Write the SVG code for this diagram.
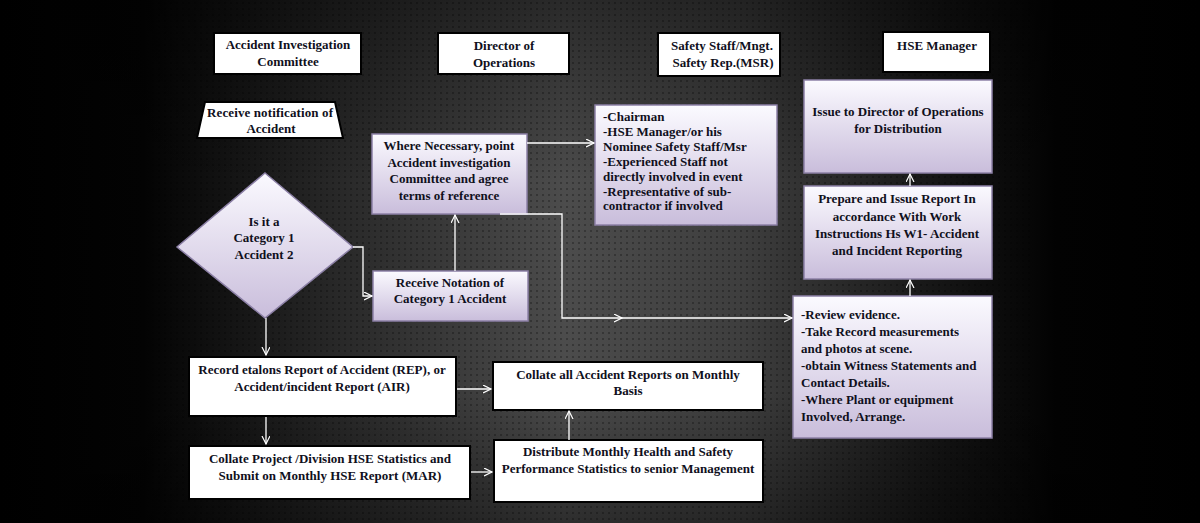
<svg xmlns="http://www.w3.org/2000/svg" width="1200" height="523" viewBox="0 0 1200 523">
  <defs>
    <linearGradient id="bgH" x1="0" y1="0" x2="1" y2="0">
      <stop offset="0" stop-color="#000"/>
      <stop offset="0.12" stop-color="#030303"/>
      <stop offset="0.28" stop-color="#282828"/>
      <stop offset="0.47" stop-color="#4c4c4c"/>
      <stop offset="0.62" stop-color="#3e3e3e"/>
      <stop offset="0.78" stop-color="#161616"/>
      <stop offset="0.88" stop-color="#020202"/>
      <stop offset="1" stop-color="#000"/>
    </linearGradient>
    <linearGradient id="bgV" x1="0" y1="0" x2="0" y2="1">
      <stop offset="0" stop-color="#000" stop-opacity="0.45"/>
      <stop offset="0.35" stop-color="#000" stop-opacity="0"/>
      <stop offset="0.75" stop-color="#000" stop-opacity="0"/>
      <stop offset="1" stop-color="#000" stop-opacity="0.4"/>
    </linearGradient>
    <pattern id="dots" width="6" height="6" patternUnits="userSpaceOnUse">
      <circle cx="3" cy="3" r="1" fill="#000" fill-opacity="0.35"/>
    </pattern>
    <linearGradient id="lav" x1="0" y1="0" x2="0" y2="1">
      <stop offset="0" stop-color="#fbfaff"/>
      <stop offset="1" stop-color="#c9bddb"/>
    </linearGradient>
    <marker id="arr" markerWidth="10" markerHeight="10" refX="8" refY="4" orient="auto" markerUnits="userSpaceOnUse">
      <path d="M0,0 L8,4 L0,8" fill="none" stroke="#fff" stroke-width="1.2"/>
    </marker>
    <style>
      .t { font-family: "Liberation Serif", "Times New Roman", serif; font-weight: bold; font-size: 13px; fill: #10101c; }
      .c { text-anchor: middle; }
      .wb { fill: #fff; stroke: #000; stroke-width: 2; }
      .lb { fill: url(#lav); stroke: #8c80a6; stroke-width: 1.5; }
      .cn { fill: none; stroke: #fff; stroke-width: 1.3; }
    </style>
  </defs>

  <rect width="1200" height="523" fill="url(#bgH)"/>
  <rect x="150" width="880" height="523" fill="url(#dots)"/>
  <rect width="1200" height="523" fill="url(#bgV)"/>

  <!-- Header nodes -->
  <g id="hdr-aic">
    <rect class="wb" x="214" y="33" width="147" height="41"/>
    <text class="t c" x="288" y="49">Accident Investigation</text>
    <text class="t c" x="288" y="66">Committee</text>
  </g>
  <g id="hdr-doo">
    <rect class="wb" x="438" y="33" width="131" height="41"/>
    <text class="t c" x="504" y="50">Director of</text>
    <text class="t c" x="504" y="67">Operations</text>
  </g>
  <g id="hdr-msr">
    <rect class="wb" x="658" y="33" width="122" height="43"/>
    <text class="t c" x="722" y="50">Safety Staff/Mngt.</text>
    <text class="t c" x="723" y="67">Safety Rep.(MSR)</text>
  </g>
  <g id="hdr-hse">
    <rect class="wb" x="883" y="32" width="107" height="40"/>
    <text class="t c" x="937" y="50">HSE Manager</text>
  </g>

  <!-- Process nodes -->
  <g id="n-notify">
    <polygon class="wb" points="205,102 335,102 343,138 197,138"/>
    <text class="t c" x="270" y="117" textLength="126" lengthAdjust="spacing">Receive notification of</text>
    <text class="t c" x="271" y="133">Accident</text>
  </g>
  <g id="n-appoint">
    <rect class="lb" x="372" y="134" width="155" height="80"/>
    <text class="t c" x="449" y="150">Where Necessary, point</text>
    <text class="t c" x="449" y="167">Accident investigation</text>
    <text class="t c" x="449" y="183">Committee and agree</text>
    <text class="t c" x="449" y="200">terms of reference</text>
  </g>
  <g id="n-decision">
    <polygon class="lb" points="265,173 353,247 265,318 177,247"/>
    <text class="t c" x="264" y="226">Is it a</text>
    <text class="t c" x="264" y="242">Category 1</text>
    <text class="t c" x="264" y="259">Accident 2</text>
  </g>
  <g id="n-notation">
    <rect class="lb" x="373" y="271" width="155" height="50"/>
    <text class="t c" x="450" y="287">Receive Notation of</text>
    <text class="t c" x="450" y="303">Category 1 Accident</text>
  </g>
  <g id="n-members">
    <rect class="lb" x="595" y="105" width="182" height="120"/>
    <text class="t" x="603" y="121">-Chairman</text>
    <text class="t" x="603" y="136">-HSE Manager/or his</text>
    <text class="t" x="603" y="151">Nominee Safety Staff/Msr</text>
    <text class="t" x="603" y="166">-Experienced Staff not</text>
    <text class="t" x="603" y="181">directly involved in event</text>
    <text class="t" x="603" y="196">-Representative of sub-</text>
    <text class="t" x="603" y="210">contractor if involved</text>
  </g>
  <g id="n-issue">
    <rect class="lb" x="804" y="80" width="188" height="93"/>
    <text class="t c" x="898" y="116">Issue to Director of Operations</text>
    <text class="t c" x="898" y="133">for Distribution</text>
  </g>
  <g id="n-prepare">
    <rect class="lb" x="804" y="186" width="188" height="93"/>
    <text class="t c" x="897" y="203">Prepare and Issue Report In</text>
    <text class="t c" x="897" y="221">accordance With Work</text>
    <text class="t c" x="897" y="238">Instructions Hs W1- Accident</text>
    <text class="t c" x="897" y="255">and Incident Reporting</text>
  </g>
  <g id="n-review">
    <rect class="lb" x="793" y="296" width="199" height="142"/>
    <text class="t" x="801" y="319">-Review evidence.</text>
    <text class="t" x="801" y="336">-Take Record measurements</text>
    <text class="t" x="801" y="353">and photos at scene.</text>
    <text class="t" x="801" y="370">-obtain Witness Statements and</text>
    <text class="t" x="801" y="387">Contact Details.</text>
    <text class="t" x="801" y="404">-Where Plant or equipment</text>
    <text class="t" x="801" y="421">Involved, Arrange.</text>
  </g>
  <g id="n-record">
    <rect class="wb" x="189" y="357" width="267" height="59"/>
    <text class="t c" x="322" y="374">Record etalons Report of Accident (REP), or</text>
    <text class="t c" x="322" y="391">Accident/incident Report (AIR)</text>
  </g>
  <g id="n-collate-project">
    <rect class="wb" x="189" y="446" width="281" height="53"/>
    <text class="t c" x="330" y="463">Collate Project /Division HSE Statistics and</text>
    <text class="t c" x="330" y="480">Submit on Monthly HSE Report (MAR)</text>
  </g>
  <g id="n-collate-all">
    <rect class="wb" x="493" y="362" width="270" height="48"/>
    <text class="t c" x="628" y="379">Collate all Accident Reports on Monthly</text>
    <text class="t c" x="628" y="395">Basis</text>
  </g>
  <g id="n-distribute">
    <rect class="wb" x="494" y="440" width="269" height="62"/>
    <text class="t c" x="628" y="456">Distribute Monthly Health and Safety</text>
    <text class="t c" x="628" y="473">Performance Statistics to senior Management</text>
  </g>

  <!-- Connectors -->
  <g id="connectors">
    <path class="cn" d="M527,143 H594" marker-end="url(#arr)"/>
    <path class="cn" d="M353,247 H363 V296 H372" marker-end="url(#arr)"/>
    <path class="cn" d="M455,271 V215" marker-end="url(#arr)"/>
    <path class="cn" d="M500,214 H562 V318 H622" marker-end="url(#arr)"/>
    <path class="cn" d="M620,318 H792" marker-end="url(#arr)"/>
    <path class="cn" d="M910,296 V280" marker-end="url(#arr)"/>
    <path class="cn" d="M910,186 V174" marker-end="url(#arr)"/>
    <path class="cn" d="M266,318 V355" marker-end="url(#arr)"/>
    <path class="cn" d="M266,417 V444" marker-end="url(#arr)"/>
    <path class="cn" d="M457,389 H491" marker-end="url(#arr)"/>
    <path class="cn" d="M471,472 H492" marker-end="url(#arr)"/>
    <path class="cn" d="M569,440 V411" marker-end="url(#arr)"/>
  </g>
</svg>
